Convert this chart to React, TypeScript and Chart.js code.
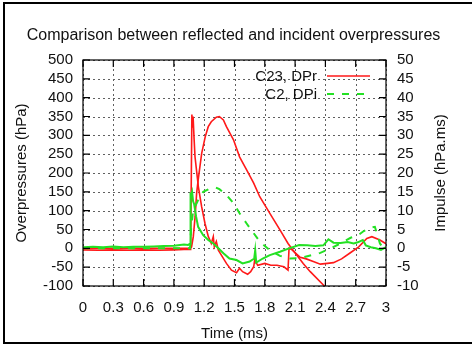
import React, { useEffect, useRef } from 'react';
import { Chart, registerables } from 'chart.js';

Chart.register(...registerables);

// ---- Axis ticks ----
const xTicks = [0, 0.3, 0.6, 0.9, 1.2, 1.5, 1.8, 2.1, 2.4, 2.7, 3];
const yTicks = [-100, -50, 0, 50, 100, 150, 200, 250, 300, 350, 400, 450, 500];
const y2Ticks = [-10, -5, 0, 5, 10, 15, 20, 25, 30, 35, 40, 45, 50];

// ---- Text ----
const chartTitle = 'Comparison between reflected and incident overpressures';
const xTitle = 'Time (ms)';
const yTitle = 'Overpressures (hPa)';
const y2Title = 'Impulse (hPa.ms)';
const legendLabels = ['C23, DPr', 'C2, DPi'];

// ---- C23 reflected overpressure (hPa, left axis) ----
const prTime = [0, 0.15, 0.3, 0.45, 0.6, 0.75, 0.9, 1.0, 1.06, 1.066, 1.078, 1.084, 1.09, 1.1, 1.109, 1.142, 1.175, 1.208, 1.241, 1.27, 1.29, 1.3, 1.32, 1.34, 1.37, 1.42, 1.47, 1.52, 1.55, 1.58, 1.63, 1.66, 1.69, 1.7, 1.73, 1.8, 1.86, 1.92, 1.99, 2.03, 2.04, 2.07, 2.15, 2.21, 2.28, 2.35, 2.42, 2.48, 2.56, 2.64, 2.73, 2.81, 2.86, 2.94, 3.0];
const prValues = [-4, -5, -4, -5, -4, -5, -4, -3, -3, 0, 355, 320, 350, 290, 243, 164, 110, 66, 31, 13, 31, 4, 18, -5, -18, -40, -58, -65, -53, -62, -69, -62, -49, -31, -45, -40, -45, -45, -49, -58, 0, -4, -24, -28, -35, -42, -40, -38, -28, -13, 4, 26, 31, 22, 12];

// ---- C23 reflected impulse (hPa.ms, right axis) ----
const irTime = [0, 1.06, 1.075, 1.092, 1.11, 1.125, 1.14, 1.175, 1.21, 1.24, 1.27, 1.32, 1.35, 1.39, 1.42, 1.49, 1.55, 1.62, 1.69, 1.75, 1.85, 1.95, 2.03, 2.08, 2.18, 2.25, 2.39, 2.45];
const irValues = [0, 0, 0.4, 3.1, 8.4, 14.6, 18.1, 25.2, 29.6, 32.3, 33.6, 34.8, 35.0, 34.1, 32.3, 28.8, 24.3, 20.8, 17.3, 13.7, 9.3, 4.9, 1.3, -0.5, -4.0, -6.2, -10, -11.5];

// ---- C2 incident overpressure (hPa, left axis) ----
const piTime = [0, 0.1, 0.2, 0.3, 0.4, 0.5, 0.6, 0.7, 0.8, 0.9, 0.96, 1.0, 1.04, 1.06, 1.065, 1.07, 1.08, 1.09, 1.1, 1.12, 1.14, 1.19, 1.24, 1.29, 1.34, 1.39, 1.45, 1.52, 1.58, 1.65, 1.695, 1.705, 1.715, 1.78, 1.85, 1.95, 2.04, 2.14, 2.22, 2.3, 2.38, 2.43, 2.48, 2.55, 2.62, 2.68, 2.72, 2.77, 2.8, 2.85, 2.9, 2.95, 3.0];
const piValues = [3, 4, 3, 5, 3, 4, 4, 5, 6, 7, 9, 10, 9, 12, 148, 140, 150, 125, 118, 84, 57, 35, 22, 13, 0, -13, -27, -31, -40, -35, -27, -5, -38, -27, -18, -9, 0, 9, 8, 6, 8, 24, 15, 14, 17, 13, 16, 22, 8, 3, 0, -4, 3];

// ---- C2 incident impulse (hPa.ms, right axis) ----
const iiTime = [0, 1.06, 1.07, 1.09, 1.14, 1.19, 1.26, 1.31, 1.35, 1.42, 1.49, 1.55, 1.62, 1.69, 1.75, 1.85, 1.95, 2.05, 2.15, 2.25, 2.35, 2.45, 2.55, 2.65, 2.72, 2.78, 2.85, 2.89, 2.94, 2.99, 3.0];
const iiValues = [0, 0, 5, 10, 12.8, 15.0, 15.9, 16.2, 15.7, 14.2, 12.0, 9.3, 6.6, 4.0, 1.8, -0.5, -2.0, -2.7, -2.6, -1.9, -1.2, 0, 1.3, 2.8, 3.4, 4.6, 5.5, 5.7, 1.3, -0.5, -0.5];

const RED = 'rgb(255,25,25)';
const GREEN = 'rgb(35,225,35)';
const FONT = "'Liberation Sans', Arial, sans-serif";

const zip = (t: number[], v: number[]) => t.map((x, i) => ({ x, y: v[i] }));

// dotted gnuplot-style grid, drawn from the library's scales
const gridPlugin = {
  id: 'gnuGrid',
  beforeDatasetsDraw(chart: any) {
    const { ctx, chartArea, scales } = chart;
    const { left, right, top, bottom } = chartArea;
    ctx.save();
    ctx.strokeStyle = '#606060';
    ctx.lineWidth = 1;
    ctx.setLineDash([2, 3]);
    ctx.beginPath();
    for (const v of xTicks) {
      const p = Math.round(scales.x.getPixelForValue(v)) + 0.5;
      ctx.moveTo(p, bottom);
      ctx.lineTo(p, top);
    }
    for (const v of yTicks) {
      const p = Math.round(scales.y.getPixelForValue(v)) + 0.5;
      ctx.moveTo(left, p);
      ctx.lineTo(right, p);
    }
    ctx.stroke();
    ctx.restore();
  },
};

const framePlugin = {
  id: 'gnuFrame',
  afterDatasetsDraw(chart: any) {
    const { ctx, chartArea, scales } = chart;
    const { left, right, top, bottom } = chartArea;
    ctx.save();
    ctx.strokeStyle = '#000';
    ctx.lineWidth = 1.2;
    ctx.setLineDash([]);
    ctx.strokeRect(left, top, right - left, bottom - top);
    const L = 7;
    ctx.beginPath();
    for (const v of xTicks) {
      const p = scales.x.getPixelForValue(v);
      ctx.moveTo(p, bottom);
      ctx.lineTo(p, bottom - L);
      ctx.moveTo(p, top);
      ctx.lineTo(p, top + L);
    }
    for (const v of yTicks) {
      const p = scales.y.getPixelForValue(v);
      ctx.moveTo(left, p);
      ctx.lineTo(left + L, p);
    }
    for (const v of y2Ticks) {
      const p = scales.y2.getPixelForValue(v);
      ctx.moveTo(right, p);
      ctx.lineTo(right - L, p);
    }
    ctx.stroke();

    // legend (gnuplot style: text right-aligned, sample on the right)
    ctx.font = `15px ${FONT}`;
    ctx.textAlign = 'right';
    ctx.textBaseline = 'middle';
    ctx.fillStyle = '#111';
    const entries = [
      { label: legendLabels[0], color: RED, dash: [] as number[], width: 1.6 },
      { label: legendLabels[1], color: GREEN, dash: [7, 8], width: 2 },
    ];
    entries.forEach((e, i) => {
      const y = top + 16 + i * 18;
      ctx.fillText(e.label, right - 69, y + 1);
      ctx.beginPath();
      ctx.strokeStyle = e.color;
      ctx.lineWidth = e.width;
      ctx.setLineDash(e.dash);
      ctx.moveTo(right - 59, y);
      ctx.lineTo(right - 16, y);
      ctx.stroke();
    });
    ctx.setLineDash([]);

    // right axis title, reading bottom to top
    ctx.save();
    ctx.translate(441, (top + bottom) / 2);
    ctx.rotate(-Math.PI / 2);
    ctx.textAlign = 'center';
    ctx.textBaseline = 'middle';
    ctx.fillStyle = '#111';
    ctx.font = `15px ${FONT}`;
    ctx.fillText(y2Title, 0, 0);
    ctx.restore();

    ctx.restore();
  },
};

export default function App() {
  const ref = useRef<HTMLCanvasElement>(null);

  useEffect(() => {
    const canvas = ref.current;
    if (!canvas) return;
    const tickFont = { family: FONT, size: 15 };
    const chart = new Chart(canvas, {
      type: 'line',
      data: {
        datasets: [
          {
            label: 'C2 DPi',
            data: zip(piTime, piValues),
            borderColor: GREEN,
            borderWidth: 2,
            pointRadius: 0,
            tension: 0,
            yAxisID: 'y',
          },
          {
            label: legendLabels[1],
            data: zip(iiTime, iiValues),
            borderColor: GREEN,
            borderWidth: 2,
            borderDash: [7, 8],
            pointRadius: 0,
            tension: 0,
            yAxisID: 'y2',
          },
          {
            label: legendLabels[0],
            data: zip(prTime, prValues),
            borderColor: RED,
            borderWidth: 1.6,
            pointRadius: 0,
            tension: 0,
            yAxisID: 'y',
          },
          {
            label: 'C23 impulse',
            data: zip(irTime, irValues),
            borderColor: RED,
            borderWidth: 1.6,
            pointRadius: 0,
            tension: 0,
            yAxisID: 'y2',
          },
        ],
      },
      options: {
        responsive: false,
        animation: false,
        maintainAspectRatio: false,
        layout: { padding: { left: 0, right: 5, top: 0, bottom: 0 } },
        plugins: {
          legend: { display: false },
          tooltip: { enabled: false },
          title: {
            display: true,
            text: chartTitle,
            color: '#111',
            font: { family: FONT, size: 16, weight: 'normal' },
            padding: { top: 26, bottom: 14.8 },
          },
        },
        scales: {
          x: {
            type: 'linear',
            min: 0,
            max: 3,
            afterBuildTicks: (s: any) => {
              s.ticks = xTicks.map((v) => ({ value: v }));
            },
            afterFit: (s: any) => {
              s.height = 60;
            },
            ticks: {
              color: '#111',
              font: tickFont,
              padding: 13,
              maxRotation: 0,
              autoSkip: false,
              callback: (v: any) => String(v),
            },
            grid: { display: false, drawTicks: false },
            border: { display: false },
            title: {
              display: true,
              text: xTitle,
              color: '#111',
              font: { family: FONT, size: 15 },
              padding: { top: 0, bottom: 3 },
            },
          },
          y: {
            type: 'linear',
            position: 'left',
            min: -100,
            max: 500,
            afterBuildTicks: (s: any) => {
              s.ticks = yTicks.map((v) => ({ value: v }));
            },
            afterFit: (s: any) => {
              s.width = 83;
            },
            ticks: {
              color: '#111',
              font: tickFont,
              padding: 10,
              autoSkip: false,
              callback: (v: any) => String(v),
            },
            grid: { display: false, drawTicks: false },
            border: { display: false },
            title: {
              display: true,
              text: yTitle,
              color: '#111',
              font: { family: FONT, size: 15 },
              padding: { top: 12.5, bottom: 0 },
            },
          },
          y2: {
            type: 'linear',
            position: 'right',
            min: -10,
            max: 50,
            afterBuildTicks: (s: any) => {
              s.ticks = y2Ticks.map((v) => ({ value: v }));
            },
            afterFit: (s: any) => {
              s.width = 81;
            },
            ticks: {
              color: '#111',
              font: tickFont,
              padding: 11,
              autoSkip: false,
              callback: (v: any) => String(v),
            },
            grid: { display: false, drawTicks: false },
            border: { display: false },
          },
        },
      },
      plugins: [gridPlugin, framePlugin],
    } as any);
    return () => {
      chart.destroy();
    };
  }, []);

  return (
    <div
      style={{
        position: 'fixed',
        left: 0,
        top: 0,
        width: 472,
        height: 346,
        overflow: 'hidden',
        background: '#fff',
      }}
    >
      <div
        style={{
          position: 'absolute',
          left: 3,
          top: 2,
          width: 520,
          height: 342,
          boxSizing: 'border-box',
          border: '2px solid #000',
        }}
      />
      <canvas
        ref={ref}
        width={472}
        height={346}
        style={{ position: 'absolute', left: 0, top: 0, width: 472, height: 346 }}
      />
    </div>
  );
}
